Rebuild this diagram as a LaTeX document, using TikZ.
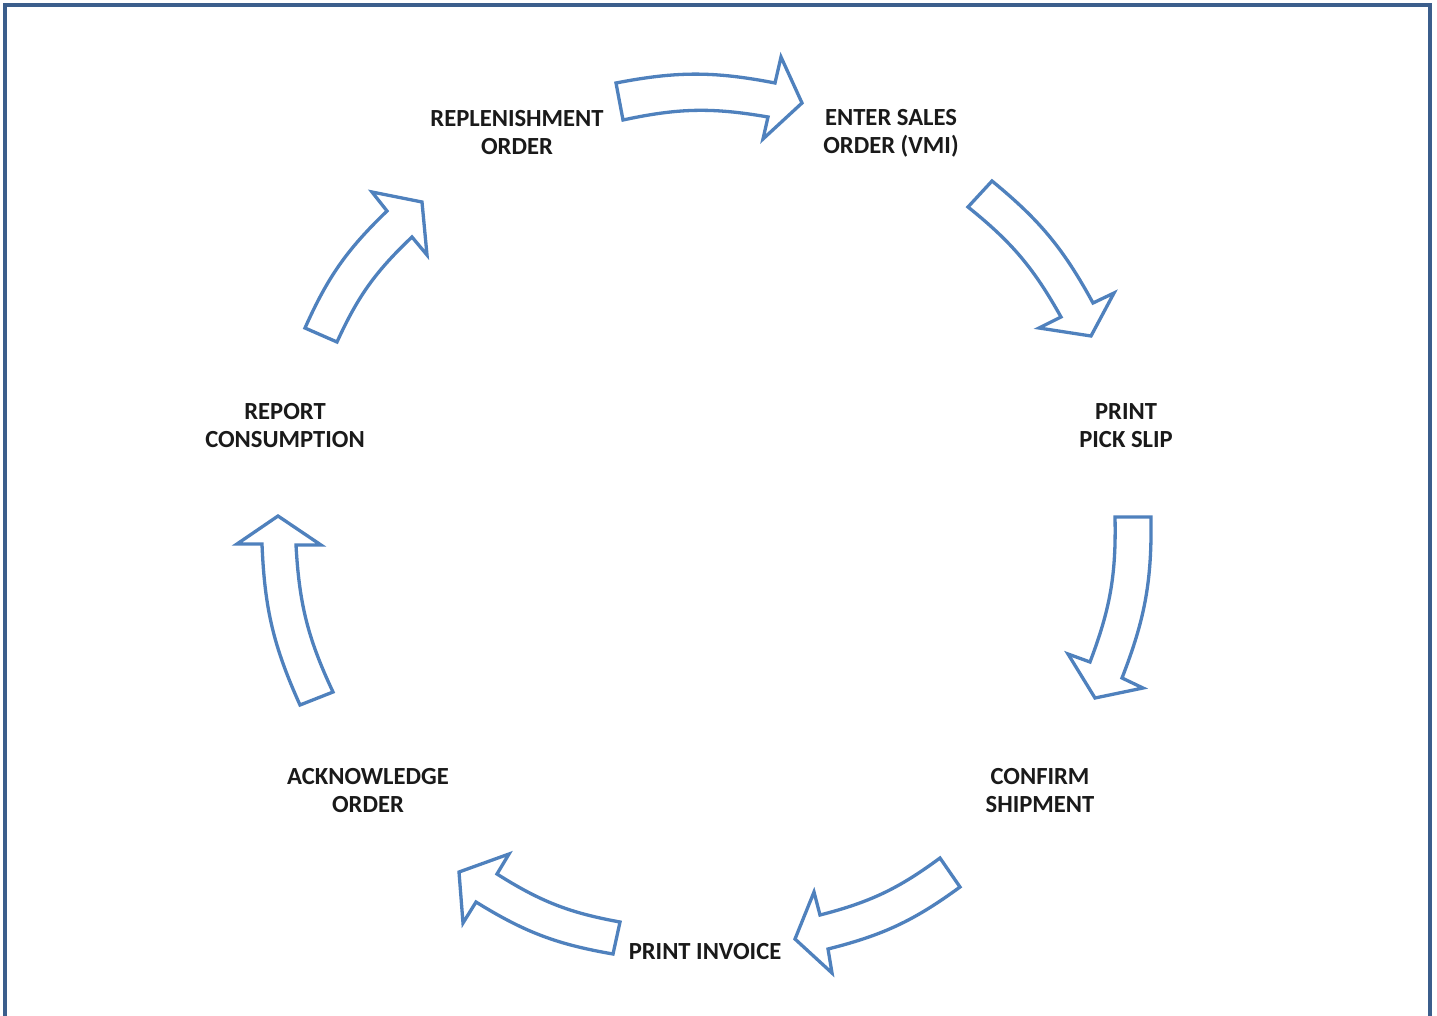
\documentclass[tikz,border=0pt]{standalone}
\usepackage{fontspec}
\setmainfont{Carlito}
\definecolor{arrowblue}{HTML}{4F81BD}
\definecolor{frameblue}{HTML}{3B5E8C}
\definecolor{textblack}{HTML}{1A1A1A}
\begin{document}
\begin{tikzpicture}[x=1pt,y=1pt,
  blockarrow/.style={draw=arrowblue,line width=3.3pt,fill=white,line join=miter},
  lbl/.style={align=center,font=\fontsize{24.6}{28}\selectfont\bfseries,text=textblack,inner sep=0pt},
  frame/.style={draw=frameblue,line width=4pt}]
\clip (0,0) rectangle (1437,-1016);
\useasboundingbox (0,0) rectangle (1437,-1016);
\fill[white] (0,0) rectangle (1437,-1016);
\draw[frame] (5,-1030) -- (5,-5) -- (1429.5,-5) -- (1429.5,-1030);

% labels
\node[lbl] (repl) at (517,-133) {REPLENISHMENT\\ORDER};
\node[lbl] (enter) at (891,-133) {ENTER SALES\\ORDER (VMI)};
\node[lbl] (pick) at (1126,-426) {PRINT\\PICK SLIP};
\node[lbl] (confirm) at (1040,-791) {CONFIRM\\SHIPMENT};
\node[lbl] (invoice) at (705,-952) {PRINT INVOICE};
\node[lbl] (ack) at (368,-791) {ACKNOWLEDGE\\ORDER};
\node[lbl] (report) at (285,-426) {REPORT\\CONSUMPTION};

% arrow 1: replenishment -> enter sales order
\draw[blockarrow] (616,-83) -- (623,-120) to[bend left=11] (768,-117) -- (763,-139)
  -- (802,-103) -- (781,-57) -- (775,-83) to[bend right=11] (616,-83) -- cycle;
% arrow 2: enter sales order -> print pick slip
\draw[blockarrow] (992,-181) -- (968,-207) to[bend left=11] (1061,-317) -- (1039,-328)
  -- (1091,-336) -- (1114,-293) -- (1093,-303) to[bend right=11] (992,-181) -- cycle;
% arrow 3: print pick slip -> confirm shipment
\draw[blockarrow] (1151,-517) -- (1115,-517) to[bend left=11] (1090,-662) -- (1068,-654)
  -- (1095,-698) -- (1143,-688) -- (1122,-678) to[bend right=11] (1151,-517) -- cycle;
% arrow 4: confirm shipment -> print invoice
\draw[blockarrow] (940,-858) -- (960,-887) to[bend left=11] (828,-949) -- (832,-973)
  -- (795,-939) -- (814,-892) -- (820,-915) to[bend right=11] (940,-858) -- cycle;
% arrow 5: print invoice -> acknowledge order
\draw[blockarrow] (620,-922) -- (613,-954) to[bend left=11] (476,-902) -- (463,-923)
  -- (459,-872) -- (509,-854) -- (497,-874) to[bend right=11] (620,-922) -- cycle;
% arrow 6: acknowledge order -> report consumption
\draw[blockarrow] (300,-705) -- (333,-692) to[bend left=11] (296,-545) -- (321,-545)
  -- (278,-516) -- (237,-544) -- (262,-544) to[bend right=11] (300,-705) -- cycle;
% arrow 7: report consumption -> replenishment order
\draw[blockarrow] (305,-328) -- (337,-342) to[bend left=11] (412,-237) -- (427,-255)
  -- (422,-202) -- (372,-192) -- (387,-211) to[bend right=11] (305,-328) -- cycle;
\end{tikzpicture}
\end{document}
